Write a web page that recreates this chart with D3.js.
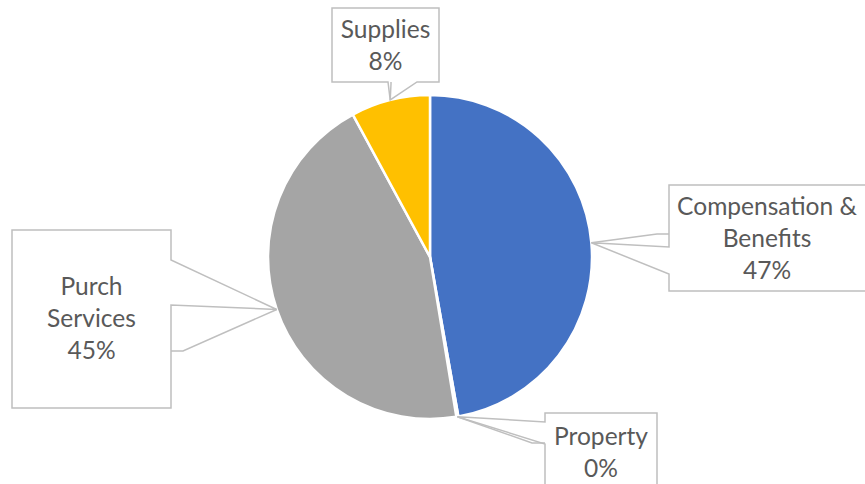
<!DOCTYPE html>
<html><head><meta charset="utf-8">
<script src="https://cdn.jsdelivr.net/npm/d3@7"></script>
<style>body{margin:0;background:#fff}svg{display:block}</style>
</head><body>
<svg id="c" width="865" height="484"></svg>
<script>
// ---- data ----
const categories = ["Compensation & Benefits", "Property", "Purch Services", "Supplies"];
const values = [47.2, 0.2, 44.7, 7.9];
const colors = ["#4472C4", "#ED7D31", "#A5A5A5", "#FFC000"];
const labelLines = [["Compensation &", "Benefits"], ["Property"], ["Purch", "Services"], ["Supplies"]];

// ---- callout layout (annotation geometry) ----
const callouts = [
  {box:[669,185,200,106], side:"left",   base:[247,274], leader:[[657,234],[669,234]], text:[767,215]},
  {box:[545,413,112,90],  side:"left",   base:[422,444], leader:[[532,443],[545,443]], text:[601,445]},
  {box:[12,230,159,178],  side:"right",  base:[260,305], leader:[[183,351],[171,351]], text:[91.5,295]},
  {box:[332,8,107,74],    side:"bottom", base:[388,417], leader:[[391,84],[391,82]],   text:[385.5,38]}
];

const cx = 430, cy = 257, R = 162;
const svg = d3.select("#c");
const total = d3.sum(values);
const pie = d3.pie().sort(null).value(d => d)(values);
const arc = d3.arc().innerRadius(0).outerRadius(R);

const g = svg.append("g").attr("transform", `translate(${cx},${cy})`);
g.selectAll("path").data(pie).join("path")
  .attr("d", arc)
  .attr("fill", (d,i) => colors[i])
  .attr("stroke", "#fff").attr("stroke-width", 2.5).attr("stroke-linejoin","round");

// font sizing to match reference widths
const fam = "Lato, 'Open Sans', sans-serif";
const probe = svg.append("text").attr("font-family", fam).attr("font-size", 100).text("Compensation &");
const w100 = probe.node().getComputedTextLength();
probe.remove();
const fs = 100 * 180 / w100;
const lh = 32;

const stroke = "#BFBFBF";
pie.forEach((d, i) => {
  const c = callouts[i];
  const mid = (d.startAngle + d.endAngle) / 2;
  const tip = [cx + R * Math.sin(mid), cy - R * Math.cos(mid)];
  const [x, y, w, h] = c.box;
  let p;
  if (c.side === "left") {
    p = `M${x},${y}H${x+w}V${y+h}H${x}V${c.base[1]}L${tip[0]},${tip[1]}L${x},${c.base[0]}Z`;
  } else if (c.side === "right") {
    p = `M${x},${y}H${x+w}V${c.base[0]}L${tip[0]},${tip[1]}L${x+w},${c.base[1]}V${y+h}H${x}Z`;
  } else {
    p = `M${x},${y}H${x+w}V${y+h}H${c.base[1]}L${tip[0]},${tip[1]}L${c.base[0]},${y+h}H${x}Z`;
  }
  svg.append("path").attr("d", p).attr("fill", "#fff")
    .attr("stroke", stroke).attr("stroke-width", 1.5).attr("stroke-linejoin","miter");
  svg.append("polyline")
    .attr("points", [tip, ...c.leader].map(q => q.join(",")).join(" "))
    .attr("fill", "none").attr("stroke", stroke).attr("stroke-width", 1.5);
  const pct = Math.round(values[i] / total * 100) + "%";
  const lines = [...labelLines[i], pct];
  const t = svg.append("text").attr("font-family", fam).attr("font-size", fs)
    .attr("fill", "#595959").attr("text-anchor", "middle");
  lines.forEach((s, k) => {
    t.append("tspan").attr("x", c.text[0]).attr("y", c.text[1] + k * lh).text(s);
  });
});
</script>
</body></html>
